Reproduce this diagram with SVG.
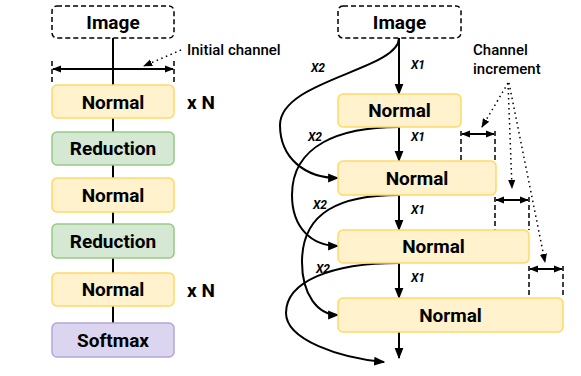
<svg xmlns="http://www.w3.org/2000/svg" width="581" height="376" viewBox="0 0 581 376">
<style>
text{font-family:Roboto,"Liberation Sans",sans-serif;fill:#000}
.lbl{font-size:19px;font-weight:700;text-anchor:middle;dominant-baseline:central}
.xn{font-size:19px;font-weight:700}
.xl{font-size:12px;font-weight:700;font-style:italic;text-anchor:middle;dominant-baseline:central}
.note{font-size:15px;font-weight:500}
.img{fill:#fff;stroke:#000;stroke-width:1.5;stroke-dasharray:5 3}
.nor{fill:#fff2cc;stroke:#ffd966;stroke-width:1.5}
.red{fill:#d5e8d4;stroke:#97c982;stroke-width:1.5}
.soft{fill:#dcd5ef;stroke:#b3a6d9;stroke-width:1.5}
.ln{fill:none;stroke:#000;stroke-width:2}
.dash{fill:none;stroke:#000;stroke-width:1.5;stroke-dasharray:5 3}
.dot{fill:none;stroke:#000;stroke-width:1.5;stroke-dasharray:1.5 3.5}
</style>
<defs>
<marker id="ah" viewBox="0 0 10 10" refX="9" refY="5" markerWidth="11" markerHeight="11" markerUnits="userSpaceOnUse" orient="auto-start-reverse"><path d="M0,1 L10,5 L0,9 Z" fill="#000"/></marker>
<marker id="ahs" viewBox="0 0 10 10" refX="9" refY="5" markerWidth="9" markerHeight="9" markerUnits="userSpaceOnUse" orient="auto-start-reverse"><path d="M0,1 L10,5 L0,9 Z" fill="#000"/></marker>
</defs>

<g id="connectors">
<path class="ln" d="M113 38V85M113 118V132M113 165V178M113 212V224M113 258V273M113 306V323"/>
<path class="dash" d="M52 61V85M174 61V85"/>
<path class="ln" d="M53 69H173" stroke-width="1.5" marker-start="url(#ahs)" marker-end="url(#ahs)"/>
<path class="dot" d="M181 50L144 66" marker-end="url(#ahs)"/>
<path class="ln" d="M399 38V94" marker-end="url(#ah)"/>
<path class="ln" d="M399 127V161" marker-end="url(#ah)"/>
<path class="ln" d="M399 195V230" marker-end="url(#ah)"/>
<path class="ln" d="M399 263V298" marker-end="url(#ah)"/>
<path class="ln" d="M399 332V358" marker-end="url(#ah)"/>
<path class="ln" d="M399 38C399 70 280 80 280 125C280 158 305 178 338 178" marker-end="url(#ah)"/>
<path class="ln" d="M399 127C340 127 292 145 292 195C292 228 312 246 338 246" marker-end="url(#ah)"/>
<path class="ln" d="M399 195C340 195 302 212 302 262C302 295 318 315 338 315" marker-end="url(#ah)"/>
<path class="ln" d="M399 263C330 263 286 282 286 313C286 340 340 358 384 362" marker-end="url(#ah)"/>
<path class="dash" d="M461 131V161M495 131V161"/>
<path class="ln" stroke-width="1.5" d="M462 134H494" marker-start="url(#ahs)" marker-end="url(#ahs)"/>
<path class="dash" d="M495 197V230M529 197V230"/>
<path class="ln" stroke-width="1.5" d="M496 200H528" marker-start="url(#ahs)" marker-end="url(#ahs)"/>
<path class="dash" d="M529 266V298M563 266V298"/>
<path class="ln" stroke-width="1.5" d="M530 269H562" marker-start="url(#ahs)" marker-end="url(#ahs)"/>
<path class="dot" d="M508 83L482 127" marker-end="url(#ahs)"/>
<path class="dot" d="M508 83L512 188" marker-end="url(#ahs)"/>
<path class="dot" d="M509 83L545 262" marker-end="url(#ahs)"/>
</g>

<g id="labels">
<text class="note" x="187" y="55">Initial channel</text>
<text class="note" x="473" y="55">Channel</text>
<text class="note" x="473" y="74">increment</text>
<text class="xn" x="187" y="109">x N</text>
<text class="xn" x="187" y="297">x N</text>
<text class="xl" x="318" y="68">X2</text>
<text class="xl" x="315" y="137">X2</text>
<text class="xl" x="320" y="205">X2</text>
<text class="xl" x="323" y="269">X2</text>
<text class="xl" x="418" y="65">X1</text>
<text class="xl" x="418" y="137">X1</text>
<text class="xl" x="418" y="210">X1</text>
<text class="xl" x="418" y="278">X1</text>
</g>

<g id="left-image"><rect class="img" x="52" y="6" width="122" height="32" rx="5"/><text class="lbl" x="113" y="22">Image</text></g>
<g id="left-normal-1"><rect class="nor" x="52" y="85" width="122" height="33" rx="5"/><text class="lbl" x="113" y="102">Normal</text></g>
<g id="left-reduction-1"><rect class="red" x="52" y="132" width="122" height="33" rx="5"/><text class="lbl" x="113" y="148.5">Reduction</text></g>
<g id="left-normal-2"><rect class="nor" x="52" y="178" width="122" height="34" rx="5"/><text class="lbl" x="113" y="195">Normal</text></g>
<g id="left-reduction-2"><rect class="red" x="52" y="224" width="122" height="34" rx="5"/><text class="lbl" x="113" y="241">Reduction</text></g>
<g id="left-normal-3"><rect class="nor" x="52" y="273" width="122" height="33" rx="5"/><text class="lbl" x="113" y="289.5">Normal</text></g>
<g id="left-softmax"><rect class="soft" x="52" y="323" width="122" height="34" rx="5"/><text class="lbl" x="113" y="340">Softmax</text></g>

<g id="right-image"><rect class="img" x="338" y="6" width="123" height="32" rx="5"/><text class="lbl" x="399.5" y="22">Image</text></g>
<g id="right-normal-1"><rect class="nor" x="338" y="94" width="123" height="33" rx="5"/><text class="lbl" x="399.5" y="110.5">Normal</text></g>
<g id="right-normal-2"><rect class="nor" x="338" y="161" width="158" height="34" rx="5"/><text class="lbl" x="417" y="178">Normal</text></g>
<g id="right-normal-3"><rect class="nor" x="338" y="230" width="191" height="33" rx="5"/><text class="lbl" x="433.5" y="246.5">Normal</text></g>
<g id="right-normal-4"><rect class="nor" x="338" y="298" width="225" height="34" rx="5"/><text class="lbl" x="450.5" y="315">Normal</text></g>
</svg>
